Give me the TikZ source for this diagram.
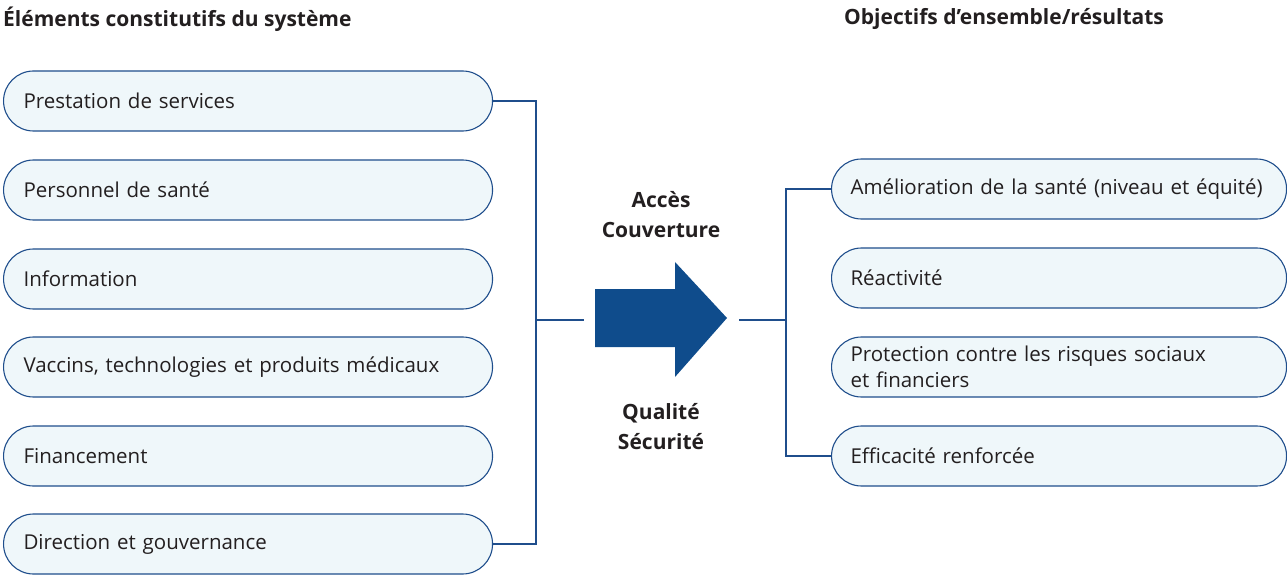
\documentclass[tikz,border=0pt]{standalone}
\usepackage{fontspec}
\setmainfont{Open Sans}
\definecolor{boxfill}{HTML}{EFF7FA}
\definecolor{boxline}{HTML}{1F4E8C}
\definecolor{arrowblue}{HTML}{0F4C8C}
\definecolor{txt}{HTML}{231F20}
\begin{document}
\begin{tikzpicture}[x=1pt,y=-1pt,
  every node/.style={text=txt},
  pill/.style={draw=boxline, line width=1.1pt, fill=boxfill, rounded corners=30pt,
    minimum height=60pt, anchor=west, align=left, font=\fontsize{20.5}{26}\selectfont},
  lpill/.style={pill, minimum width=489pt, text width=449pt, inner xsep=20pt},
  rpill/.style={pill, minimum width=455pt, text width=417pt, inner xsep=19pt},
  conn/.style={draw=boxline, line width=1.1pt},
  title/.style={font=\fontsize{21}{23}\selectfont\bfseries, anchor=west, inner sep=0pt},
  mid/.style={font=\fontsize{21}{30}\selectfont\bfseries, align=center, inner sep=0pt}]
\useasboundingbox (0,0) rectangle (1287,585);
\node[title] (t1) at (3,19) {Éléments constitutifs du système};
\node[title] (t2) at (844,19) {Objectifs d’ensemble/résultats};
\node[lpill] (L1) at (3,101) {Prestation de services};
\node[lpill] (L2) at (3,190) {Personnel de santé};
\node[lpill] (L3) at (3,279) {Information};
\node[lpill] (L4) at (3,367) {Vaccins, technologies et produits médicaux};
\node[lpill] (L5) at (3,456) {Financement};
\node[lpill] (L6) at (3,544) {Direction et gouvernance};
\node[rpill] (R1) at (831,189) {Amélioration de la santé (niveau et équité)};
\node[rpill] (R2) at (831,278) {Réactivité};
\node[rpill] (R3) at (831,367) {Protection contre les risques sociaux\\et financiers};
\node[rpill] (R4) at (831,456) {Efficacité renforcée};
\coordinate (lj) at (536,320);
\coordinate (ls) at (584,320);
\coordinate (rj) at (786,320);
\coordinate (rs) at (739,320);
\draw[conn] (L1.east) -| (lj) |- (L6.east);
\draw[conn] (lj) -- (ls);
\draw[conn] (R1.west) -| (rj) |- (R4.west);
\draw[conn] (rs) -- (rj);
\fill[arrowblue] (595,289) -- (675,289) -- (675,262) -- (727,318) -- (675,377) -- (675,347) -- (595,347) -- cycle;
\node[mid] (top) at (661,215) {Accès\\Couverture};
\node[mid] (bot) at (661,427) {Qualité\\Sécurité};
\end{tikzpicture}
\end{document}
